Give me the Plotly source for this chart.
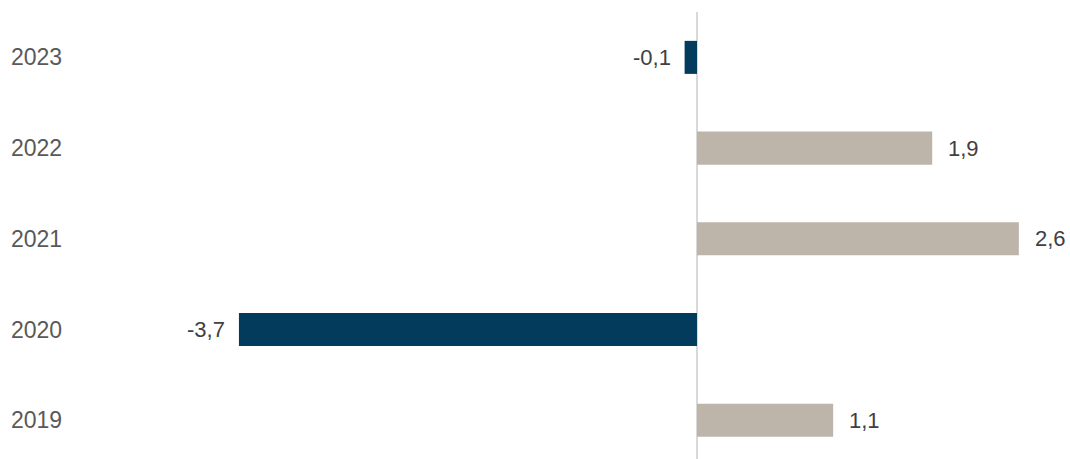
import plotly.graph_objects as go

years = ["2019", "2020", "2021", "2022", "2023"]
values = [1.1, -3.7, 2.6, 1.9, -0.1]

NEG = "#023B5C"
POS = "#BDB5AA"
colors = [NEG if v < 0 else POS for v in values]
labels = [f"{v:.1f}".replace(".", ",") for v in values]

fig = go.Figure()
fig.add_trace(go.Bar(
    x=values, y=years, orientation="h",
    marker=dict(color=colors, line=dict(width=0)),
    width=0.364, hoverinfo="skip",
))

font_val = dict(family="Liberation Sans, Arial, sans-serif", size=22, color="#404040")
font_year = dict(family="Liberation Sans, Arial, sans-serif", size=23, color="#595959")

annotations = []
for i, (y, v, t) in enumerate(zip(years, values, labels)):
    annotations.append(dict(
        x=v, y=i, xref="x", yref="y", text=t, showarrow=False,
        xanchor="left" if v >= 0 else "right",
        xshift=14 if v >= 0 else -12,
        yanchor="middle", font=font_val,
    ))
    annotations.append(dict(
        x=0, y=i, xref="paper", yref="y", text=y, showarrow=False,
        xanchor="left", xshift=9, yanchor="middle", font=font_year,
    ))

fig.update_layout(
    width=1070, height=459,
    margin=dict(l=0, r=0, t=12, b=0),
    paper_bgcolor="white", plot_bgcolor="white",
    showlegend=False,
    annotations=annotations,
    xaxis=dict(range=[-5.63, 3.013], showgrid=False, showticklabels=False,
               zeroline=True, zerolinecolor="#D9D9D9", zerolinewidth=2,
               fixedrange=True),
    yaxis=dict(type="category", categoryorder="array", categoryarray=years,
               range=[-0.426, 4.5], showgrid=False, showticklabels=False,
               zeroline=False, fixedrange=True),
)

fig.write_html(
    "out.html",
    config={"displayModeBar": False, "staticPlot": True},
    post_script="document.body.style.margin='0';document.body.style.overflow='hidden';",
)
